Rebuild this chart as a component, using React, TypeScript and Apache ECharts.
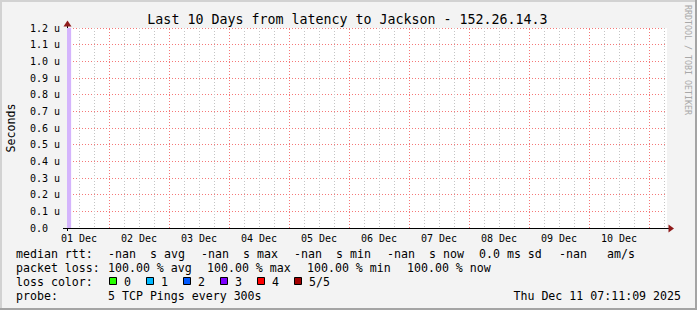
import React, { useEffect, useRef } from 'react';
import * as echarts from 'echarts';

// ---------- data ----------
const TITLE = 'Last 10 Days from latency to Jackson - 152.26.14.3';
const Y_TITLE = 'Seconds';
const WATERMARK = 'RRDTOOL / TOBI OETIKER';

const startTime = Date.UTC(2025, 11, 1, 7, 11, 9);
const endTime = Date.UTC(2025, 11, 11, 7, 11, 9);

const dayLabels = ['01 Dec', '02 Dec', '03 Dec', '04 Dec', '05 Dec', '06 Dec', '07 Dec', '08 Dec', '09 Dec', '10 Dec'];
const dayLabelDates = [1, 2, 3, 4, 5, 6, 7, 8, 9, 10];
const majorGridDates = [2, 3, 4, 5, 6, 7, 8, 9, 10, 11];
const minorGridHours = [6, 12, 18];

const yTickValues = [0, 0.1, 0.2, 0.3, 0.4, 0.5, 0.6, 0.7, 0.8, 0.9, 1.0, 1.1, 1.2];
const yMax = 1.2;

// loss band at the very start of the period (full height)
const lossBandTimes = [Date.UTC(2025, 11, 1, 7, 11, 9), Date.UTC(2025, 11, 1, 8, 50, 0)];
const lossBandValues = [1.2, 1.2];
const lossBandColor = '#d4b4fc';

const rttStatNames = ['avg', 'max', 'min', 'now'];
const rttStatValues = ['-nan', '-nan', '-nan', '-nan'];
const rttSd = '0.0 ms sd';
const rttAmps = '-nan';
const lossStatValues = ['100.00', '100.00', '100.00', '100.00'];
const lossLabels = ['0', '1', '2', '3', '4', '5/5'];
const lossColors = ['#26ff00', '#00b8ff', '#0059ff', '#7e00ff', '#ff0000', '#a10000'];
const probeText = '5 TCP Pings every 300s';
const timestampText = 'Thu Dec 11 07:11:09 2025';

// ---------- derived ----------
const dayLabelTimes = dayLabelDates.map((d) => Date.UTC(2025, 11, d, 12));
const majorGridTimes = majorGridDates.map((d) => Date.UTC(2025, 11, d));
const minorGridTimes: number[] = [];
for (let d = 1; d <= 11; d++) {
  for (const h of minorGridHours) {
    const t = Date.UTC(2025, 11, d, h);
    if (t > startTime && t < endTime) minorGridTimes.push(t);
  }
}

const MONO = '"DejaVu Sans Mono", monospace';
const BG = '#f3f3f3';
const MAJOR = 'rgb(245,120,120)';
const MINOR = '#c4c4c4';

function txt(text: string, x: number, y: number, opts: any = {}) {
  const align = opts.align || 'left';
  return {
    type: 'text',
    x,
    y,
    rotation: opts.rotation || 0,
    silent: true,
    style: {
      text,
      fill: opts.color || '#000',
      font: `${opts.size || 11.6}px ${MONO}`,
      align,
      textAlign: align,
      verticalAlign: 'middle',
      textVerticalAlign: 'middle',
    },
  };
}

export default function App() {
  const ref = useRef<HTMLDivElement>(null);

  useEffect(() => {
    if (!ref.current) return;
    const chart = echarts.init(ref.current, null, { renderer: 'svg' });

    const graphics: any[] = [];
    // 3D frame
    graphics.push({ type: 'rect', shape: { x: 0, y: 0, width: 697, height: 2 }, style: { fill: '#d2d2d2' }, silent: true });
    graphics.push({ type: 'rect', shape: { x: 0, y: 0, width: 2, height: 310 }, style: { fill: '#d2d2d2' }, silent: true });
    graphics.push({ type: 'rect', shape: { x: 0, y: 308, width: 697, height: 2 }, style: { fill: '#a4a4a4' }, silent: true });
    graphics.push({ type: 'rect', shape: { x: 695, y: 0, width: 2, height: 310 }, style: { fill: '#a4a4a4' }, silent: true });

    // title, axis title, watermark
    graphics.push(txt(TITLE, 347.5, 19, { align: 'center', size: 13.3 }));
    graphics.push(txt(Y_TITLE, 11, 128, { align: 'center', size: 11.6, rotation: Math.PI / 2 }));
    graphics.push(txt(WATERMARK, 688, 60, { align: 'center', size: 8.3, color: '#a8a8a8', rotation: -Math.PI / 2 }));

    // axis arrows & extensions
    graphics.push({ type: 'line', shape: { x1: 63, y1: 228.5, x2: 67, y2: 228.5 }, style: { stroke: '#000', lineWidth: 1 }, silent: true });
    graphics.push({ type: 'line', shape: { x1: 67.5, y1: 228, x2: 67.5, y2: 231 }, style: { stroke: '#000', lineWidth: 1 }, silent: true });
    graphics.push({ type: 'line', shape: { x1: 667, y1: 228.5, x2: 669, y2: 228.5 }, style: { stroke: '#000', lineWidth: 1 }, silent: true });
    graphics.push({ type: 'polygon', shape: { points: [[668.5, 224.5], [674, 228.5], [668.5, 232.5]] }, style: { fill: '#8f1a1a' }, silent: true });
    graphics.push({ type: 'line', shape: { x1: 67.5, y1: 28, x2: 67.5, y2: 25 }, style: { stroke: '#000', lineWidth: 1 }, silent: true });
    graphics.push({ type: 'polygon', shape: { points: [[63.5, 26.5], [67.5, 20.5], [71.5, 26.5]] }, style: { fill: '#8f1a1a' }, silent: true });

    // legend
    const L1 = 253.5, L2 = 267.5, L3 = 281.5, L4 = 296;
    graphics.push(txt('median rtt:', 16, L1));
    const rttX = [108, 201, 294, 387];
    rttStatValues.forEach((v, i) => {
      graphics.push(txt(v, rttX[i], L1));
      graphics.push(txt('s ' + rttStatNames[i], rttX[i] + 42, L1));
    });
    graphics.push(txt(rttSd, 479, L1));
    graphics.push(txt(rttAmps, 559, L1));
    graphics.push(txt('am/s', 607, L1));

    graphics.push(txt('packet loss:', 16, L2));
    const lossX = [108, 207, 307, 407];
    lossStatValues.forEach((v, i) => {
      graphics.push(txt(`${v} % ${rttStatNames[i]}`, lossX[i], L2));
    });

    graphics.push(txt('loss color:', 16, L3));
    lossLabels.forEach((lab, i) => {
      const bx = Math.round(109 + i * 36.9);
      graphics.push({
        type: 'rect',
        shape: { x: bx + 0.5, y: 277.5, width: 7, height: 7 },
        style: { fill: lossColors[i], stroke: '#000', lineWidth: 1 },
        silent: true,
      });
      graphics.push(txt(lab, bx + 15, L3));
    });

    graphics.push(txt('probe:', 16, L4));
    graphics.push(txt(probeText, 108, L4));
    graphics.push(txt(timestampText, 681, L4, { align: 'right' }));

    const option: any = {
      animation: false,
      backgroundColor: BG,
      grid: {
        left: 67,
        right: 30,
        top: 28,
        bottom: 82,
        show: true,
        backgroundColor: '#ffffff',
        borderWidth: 0,
        outerBoundsMode: 'none',
        containLabel: false,
      },
      xAxis: {
        type: 'value',
        min: startTime,
        max: endTime,
        position: 'bottom',
        axisLine: { show: true, onZero: false, lineStyle: { color: '#000', width: 1 } },
        axisTick: { show: false, customValues: minorGridTimes },
        axisLabel: {
          show: true,
          customValues: dayLabelTimes,
          margin: 10,
          verticalAlign: 'middle',
          fontFamily: MONO,
          fontSize: 10,
          color: '#000',
          formatter: (v: number) => {
            const idx = dayLabelTimes.indexOf(v);
            return idx >= 0 ? dayLabels[idx] : '';
          },
        },
        splitLine: { show: true, lineStyle: { color: MINOR, width: 1, type: [1, 2] } },
      },
      yAxis: {
        type: 'value',
        min: 0,
        max: yMax,
        interval: 0.1,
        axisLine: { show: true, onZero: false, lineStyle: { color: '#000', width: 1 } },
        axisTick: { show: false },
        axisLabel: {
          margin: 37,
          align: 'left',
          fontFamily: MONO,
          fontSize: 10,
          color: '#000',
          formatter: (v: number) => (Math.abs(v) < 1e-9 ? '0.0' : v.toFixed(1) + ' u'),
        },
        splitLine: { show: true, lineStyle: { color: MAJOR, width: 1, type: [1, 2] } },
      },
      series: [
        {
          type: 'line',
          data: lossBandTimes.map((t, i) => [t, lossBandValues[i]]),
          symbol: 'none',
          lineStyle: { width: 0 },
          areaStyle: { color: lossBandColor, opacity: 1 },
          silent: true,
          z: 1,
        },
        {
          type: 'line',
          data: [],
          symbol: 'none',
          silent: true,
          z: 1,
          markLine: {
            silent: true,
            symbol: ['none', 'none'],
            label: { show: false },
            lineStyle: { color: MAJOR, width: 1, type: [1, 2] },
            emphasis: { disabled: true },
            data: majorGridTimes.map((t) => ({ xAxis: t })),
          },
        },
      ],
      graphic: { elements: graphics },
    };

    chart.setOption(option);
    return () => chart.dispose();
  }, []);

  return (
    <div
      ref={ref}
      style={{ position: 'fixed', left: 0, top: 0, width: 697, height: 310 }}
    />
  );
}
